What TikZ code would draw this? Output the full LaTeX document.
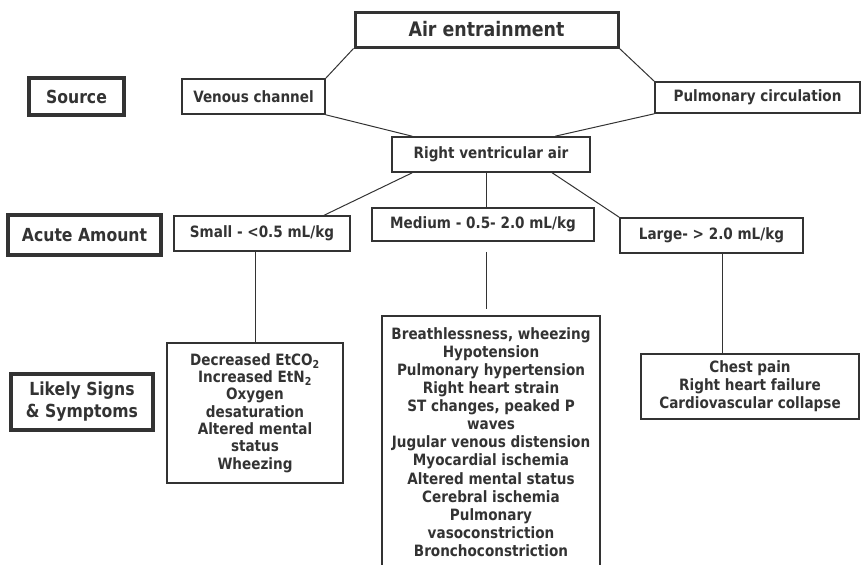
\documentclass[tikz,border=0pt]{standalone}
\usepackage{fontspec}
\setmainfont{DejaVu Sans}[FakeStretch=0.87]
\usetikzlibrary{calc}
\definecolor{ink}{HTML}{333333}
\begin{document}
\begin{tikzpicture}[x=1pt,y=-1pt,
  box/.style={draw=ink,line width=1.6pt,rectangle,inner sep=0pt,text=ink,
    font=\bfseries\fontsize{15.6}{18.1}\selectfont,align=center},
  lbl/.style={box,line width=3.6pt,font=\bfseries\fontsize{18}{22}\selectfont},
  conn/.style={draw=ink,line width=1pt}]
\useasboundingbox (0,0) rectangle (863,565);
\clip (0,0) rectangle (863,565);
% top
\node[box,line width=3pt,font=\bfseries\fontsize{20}{24}\selectfont,minimum width=263,minimum height=35] (air) at (486.5,29.5) {Air entrainment};
\node[lbl,minimum width=95,minimum height=37] (source) at (76.5,96.5) {Source};
\node[box,minimum width=143,minimum height=35] (venous) at (253.5,96.5) {Venous channel};
\node[box,minimum width=205,minimum height=31] (pulm) at (757.5,97.5) {Pulmonary circulation};
\node[box,minimum width=198,minimum height=35] (rva) at (491,154.5) {Right ventricular air};
% amounts
\node[lbl,minimum width=153,minimum height=40] (acute) at (84.5,235) {Acute Amount};
\node[box,minimum width=176,minimum height=35] (small) at (262,233.5) {Small - <0.5 mL/kg};
\node[box,minimum width=222,minimum height=33] (medium) at (483,224.5) {Medium - 0.5- 2.0 mL/kg};
\node[box,minimum width=183,minimum height=35] (large) at (711.5,235.5) {Large- > 2.0 mL/kg};
% signs
\node[lbl,minimum width=142,minimum height=56] (likely) at (82,402) {Likely Signs\\\& Symptoms};
\node[box,minimum width=176,minimum height=140,font=\bfseries\fontsize{15.6}{17.3}\selectfont] (ssmall) at (255,413)
  {Decreased EtCO\textsubscript{2}\\Increased EtN\textsubscript{2}\\Oxygen\\desaturation\\Altered mental\\status\\Wheezing};
\node[box,minimum width=218,minimum height=252] (smed) at (491,442)
  {Breathlessness, wheezing\\Hypotension\\Pulmonary hypertension\\Right heart strain\\ST changes, peaked P\\waves\\Jugular venous distension\\Myocardial ischemia\\Altered mental status\\Cerebral ischemia\\Pulmonary\\vasoconstriction\\Bronchoconstriction};
\node[box,minimum width=218,minimum height=65] (slarge) at (750,386.5)
  {Chest pain\\Right heart failure\\Cardiovascular collapse};
% connectors
\draw[conn] (air.south west) -- (venous.north east);
\draw[conn] (air.south east) -- (pulm.north west);
\draw[conn] (venous.south east) -- ($(rva.north west)+(21,0)$);
\draw[conn] (pulm.south west) -- ($(rva.north west)+(164,0)$);
\draw[conn] ($(rva.south west)+(21,0)$) -- ($(small.north west)+(151,0)$);
\coordinate (mx) at ($(rva.south west)+(95,0)$);
\draw[conn] (mx) -- (mx |- medium.north);
\draw[conn] ($(rva.south west)+(161,0)$) -- (large.north west);
\draw[conn] (ssmall.north |- small.south) -- (ssmall.north);
\draw[conn,shorten <=10pt,shorten >=6pt] (mx |- medium.south) -- (mx |- smed.north);
\coordinate (lx) at ($(large.south west)+(103,0)$);
\draw[conn] (lx) -- (lx |- slarge.north);
\end{tikzpicture}
\end{document}
